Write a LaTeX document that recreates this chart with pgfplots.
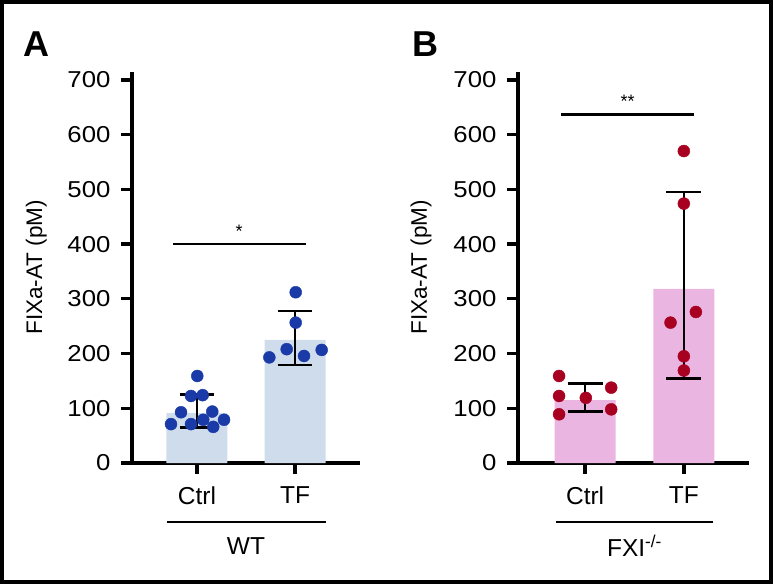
\documentclass[border=0pt]{standalone}
\usepackage{fontspec}
\setmainfont{Liberation Sans}
\newfontfamily\widefont[FakeStretch=1.12]{Liberation Sans}
\usepackage{pgfplots}
\pgfplotsset{compat=1.18}

\definecolor{dotblue}{RGB}{26,58,168}
\definecolor{barblue}{RGB}{207,220,236}
\definecolor{dotred}{RGB}{168,0,32}
\definecolor{barpink}{RGB}{234,181,224}

\pgfplotsset{
  panel/.style={
    scale only axis, height=391.3pt,
    ymin=0, ymax=715, ytick={0,100,...,700},
    xtick={0,1}, xticklabels={Ctrl,TF},
    axis lines=left, axis line style={-, line width=3.3pt},
    tick style={black, line width=3.3pt}, major tick length=11pt,
    tick align=outside, minor tick num=0,
    clip=false,
    /pgf/number format/assume math mode=true,
    yticklabel style={font=\widefont\fontsize{23}{26}\selectfont, xshift=-7pt},
    xticklabel style={font=\fontsize{24.5}{28}\selectfont, yshift=-9pt},
    ylabel={FIXa-AT (pM)},
    every axis y label/.style={at={(axis description cs:-0.42,0.5)}, rotate=90, anchor=center, font=\fontsize{22.5}{26}\selectfont},
  },
  ebar/.style={black, line width=2.6pt},
  sig/.style={black, line width=2.4pt},
}

\begin{document}
\begin{tikzpicture}[x=1pt,y=1pt]
\useasboundingbox (0,0) rectangle (773,584);
\draw[line width=3.5pt] (2,2) rectangle (771,582);

\node[font=\bfseries\fontsize{36}{40}\selectfont] at (36,540) {A};
\node[font=\bfseries\fontsize{36}{40}\selectfont] at (425,540) {B};

% panel A: WT
\begin{axis}[panel, at={(132pt,121pt)}, anchor=south west, width=228pt,
  xmin=-0.663, xmax=1.663]
\addplot[ybar, bar width=61pt, fill=barblue, draw=none] coordinates {(0,91) (1,225)};
% error bars
\addplot[ebar] coordinates {(0,65) (0,125)};
\addplot[ebar] coordinates {(-0.178,125) (0.178,125)};
\addplot[ebar] coordinates {(-0.178,65) (0.178,65)};
\addplot[ebar] coordinates {(1,179) (1,278)};
\addplot[ebar] coordinates {(0.822,278) (1.178,278)};
\addplot[ebar] coordinates {(0.822,179) (1.178,179)};
% dots
\addplot[only marks, mark=*, mark size=6pt, color=dotblue] coordinates {
  (-0.265,71) (-0.163,92.7) (-0.061,122.5) (-0.061,71) (0.003,159)
  (0.058,124) (0.064,79) (0.156,94) (0.166,66) (0.276,79)
};
\addplot[only marks, mark=*, mark size=6pt, color=dotblue] coordinates {
  (1.007,312) (1.007,256.5) (0.915,208) (0.738,193) (1.092,195.6) (1.272,206.6)
};
% significance
\addplot[sig] coordinates {(-0.245,400) (1.11,400)};
\node[font=\fontsize{18}{20}\selectfont] at (axis cs:0.43,424) {*};
% group line
\addplot[sig] coordinates {(-0.306,-108) (1.313,-108)};
\node[font=\fontsize{24.5}{28}\selectfont] at (axis cs:0.5,-151) {WT};
\end{axis}

% panel B: FXI-/-
\begin{axis}[panel, at={(518pt,121pt)}, anchor=south west, width=231pt,
  xmin=-0.68, xmax=1.66]
\addplot[ybar, bar width=61pt, fill=barpink, draw=none] coordinates {(0,115) (1,318)};
\addplot[ebar] coordinates {(0,94) (0,145)};
\addplot[ebar] coordinates {(-0.178,145) (0.178,145)};
\addplot[ebar] coordinates {(-0.178,94) (0.178,94)};
\addplot[ebar] coordinates {(1,154) (1,495)};
\addplot[ebar] coordinates {(0.822,495) (1.178,495)};
\addplot[ebar] coordinates {(0.822,154) (1.178,154)};
\addplot[only marks, mark=*, mark size=6pt, color=dotred] coordinates {
  (-0.264,159) (-0.264,122.5) (-0.264,89) (0.007,119) (0.264,137.7) (0.264,98)
};
\addplot[only marks, mark=*, mark size=6pt, color=dotred] coordinates {
  (1,570) (1,474) (1,195) (1,169) (1.122,276) (0.865,256.5)
};
\addplot[sig] coordinates {(-0.245,637) (1.10,637)};
\node[font=\fontsize{18}{20}\selectfont] at (axis cs:0.43,660) {**};
\addplot[sig] coordinates {(-0.30,-108) (1.30,-108)};
\node[font=\fontsize{24.5}{28}\selectfont] at (axis cs:0.5,-151) {FXI\textsuperscript{-/-}};
\end{axis}
\end{tikzpicture}
\end{document}
